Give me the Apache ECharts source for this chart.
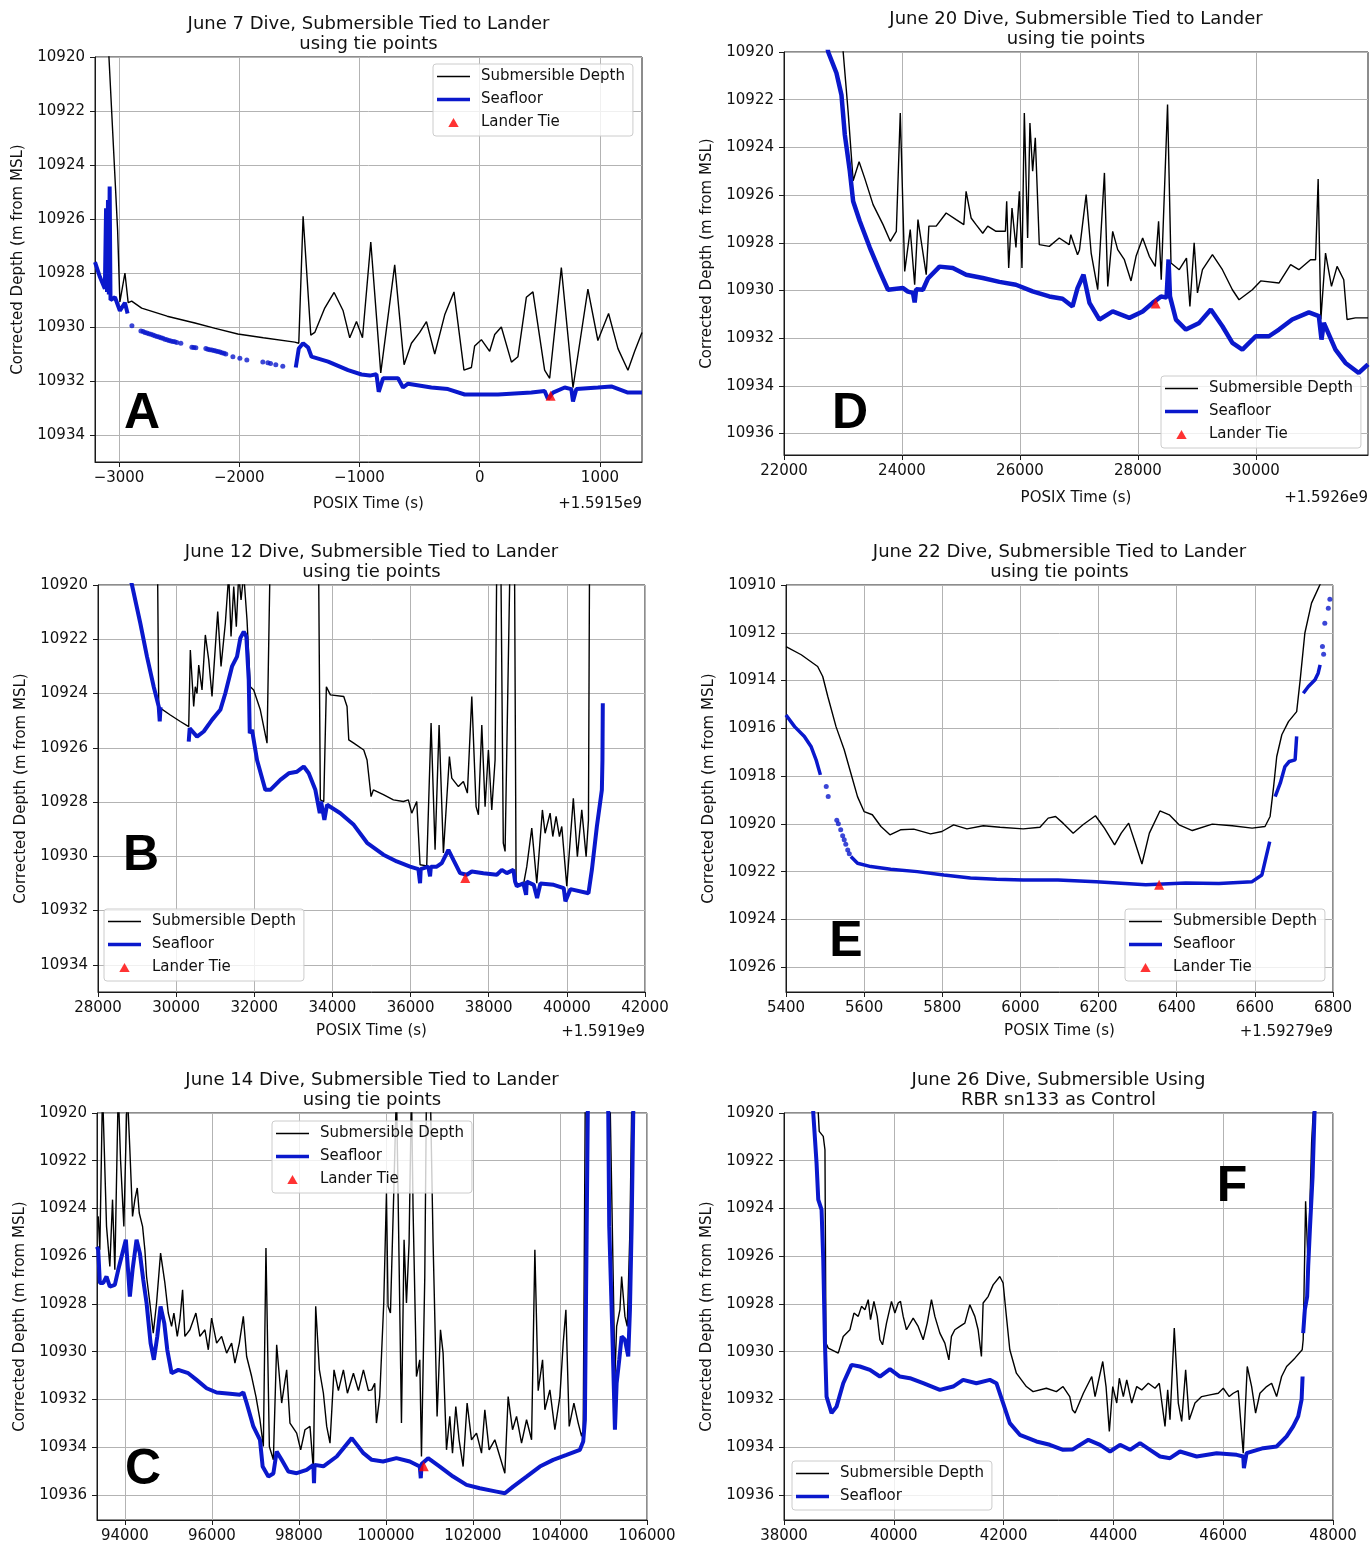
<!DOCTYPE html>
<html>
<head>
<meta charset="utf-8">
<script src="https://cdn.jsdelivr.net/npm/echarts@6/dist/echarts.min.js"></script>
<style>
  html, body { margin: 0; padding: 0; background: #ffffff; }
  #chart { width: 1372px; height: 1544px; }
</style>
</head>
<body>
<div id="chart"></div>
<script>
// ---------- June 7 dive (offset +1.5915e9 s) ----------
const subA = [[-3090,10910],[-3084,10920],[-3012,10926.4],[-2993,10929.07],[-2951,10928.0],[-2924,10929.1],[-2895,10929.04],[-2812,10929.3],[-2600,10929.6],[-2369,10929.85],[-2200,10930.05],[-2012,10930.26],[-1800,10930.4],[-1538,10930.56],[-1505,10930.6],[-1469,10925.9],[-1405,10930.3],[-1372,10930.2],[-1289,10929.3],[-1211,10928.72],[-1136,10929.4],[-1081,10930.4],[-1025,10929.8],[-975,10930.4],[-906,10926.85],[-823,10931.7],[-707,10927.7],[-629,10931.4],[-568,10930.6],[-499,10930.2],[-443,10929.8],[-374,10931.0],[-291,10929.55],[-214,10928.7],[-131,10931.6],[-69,10931.5],[-42,10930.7],[14,10930.47],[83,10930.9],[125,10930.28],[180,10930.0],[264,10931.3],[318,10931.1],[388,10928.9],[443,10928.7],[540,10931.6],[582,10931.9],[679,10927.8],[776,10932.25],[900,10928.6],[983,10930.5],[1072,10929.5],[1150,10930.8],[1233,10931.6],[1289,10930.9],[1350,10930.2]];
const floorA = [[-3200,10927.6],[-3159,10928.15],[-3118,10928.58],[-3108,10925.6],[-3100,10928.7],[-3092,10925.3],[-3085,10928.8],[-3078,10924.8],[-3071,10929.0],[-3034,10928.9],[-2993,10929.4],[-2951,10929.1],[-2929,10929.5],[-2910,null],[-1530,10931.5],[-1505,10930.8],[-1469,10930.6],[-1427,10930.76],[-1399,10931.1],[-1261,10931.28],[-1095,10931.6],[-983,10931.76],[-914,10931.8],[-859,10931.75],[-840,10932.4],[-804,10931.9],[-679,10931.9],[-638,10932.24],[-596,10932.1],[-402,10932.24],[-264,10932.3],[-125,10932.5],[152,10932.5],[430,10932.43],[540,10932.37],[568,10932.67],[609,10932.43],[707,10932.24],[762,10932.3],[776,10932.76],[804,10932.3],[983,10932.24],[1095,10932.2],[1233,10932.43],[1350,10932.43]];
const dotsA = [[-2893,10929.95],[-2818,10930.15],[-2800,10930.17],[-2785,10930.2],[-2768,10930.22],[-2752,10930.25],[-2735,10930.27],[-2718,10930.3],[-2702,10930.32],[-2685,10930.35],[-2668,10930.37],[-2652,10930.4],[-2636,10930.42],[-2619,10930.45],[-2602,10930.47],[-2585,10930.5],[-2569,10930.52],[-2552,10930.54],[-2536,10930.55],[-2519,10930.57],[-2486,10930.6],[-2394,10930.75],[-2378,10930.76],[-2361,10930.77],[-2278,10930.8],[-2262,10930.82],[-2245,10930.84],[-2228,10930.85],[-2211,10930.87],[-2195,10930.89],[-2178,10930.91],[-2161,10930.93],[-2145,10930.95],[-2128,10930.97],[-2112,10931.0],[-2053,10931.1],[-1995,10931.16],[-1937,10931.22],[-1804,10931.3],[-1762,10931.32],[-1740,10931.35],[-1696,10931.4],[-1638,10931.45]];
const tieA = [[590,10932.55]];
const xTicksA = [-3000,-2000,-1000,0,1000];
const yTicksA = [10920,10922,10924,10926,10928,10930,10932,10934];

// ---------- June 20 dive (offset +1.5926e9 s) ----------
const subD = [[22980,10915],[23003,10920],[23087,10922.5],[23172,10925.4],[23273,10924.6],[23369,10925.3],[23510,10926.4],[23679,10927.24],[23802,10927.94],[23904,10927.52],[23971,10922.56],[24046,10929.2],[24140,10927.45],[24215,10929.76],[24271,10927.03],[24411,10929.34],[24456,10927.3],[24580,10927.3],[24749,10926.75],[24918,10927.03],[25048,10927.24],[25087,10925.84],[25172,10926.96],[25256,10927.24],[25369,10927.6],[25454,10927.3],[25594,10927.52],[25753,10927.52],[25775,10926.26],[25809,10929.06],[25865,10926.54],[25932,10928.2],[25990,10925.84],[26034,10929.06],[26074,10922.56],[26130,10927.8],[26169,10922.98],[26215,10925.0],[26260,10923.6],[26328,10928.08],[26497,10928.15],[26666,10927.8],[26835,10928.08],[26862,10927.66],[26976,10928.5],[27009,10928.3],[27122,10925.98],[27207,10928.43],[27318,10929.97],[27432,10925.07],[27488,10929.83],[27572,10927.52],[27657,10928.29],[27770,10928.71],[27883,10929.6],[27968,10928.57],[28080,10927.8],[28193,10928.57],[28294,10928.99],[28350,10927.1],[28395,10929.55],[28502,10922.2],[28560,10928.85],[28700,10929.13],[28823,10928.64],[28881,10930.67],[28953,10928.0],[29009,10930.1],[29094,10929.13],[29263,10928.5],[29432,10929.13],[29601,10929.97],[29714,10930.39],[29939,10929.97],[30081,10929.6],[30390,10929.69],[30588,10928.92],[30728,10929.13],[30926,10928.71],[31011,10928.71],[31055,10925.33],[31101,10931.22],[31180,10928.43],[31281,10929.83],[31376,10928.99],[31489,10929.55],[31545,10931.22],[31687,10931.15],[31900,10931.15]];
const floorD = [[22650,10918.5],[22749,10920],[22889,10920.88],[22974,10921.8],[23031,10923.47],[23116,10925.0],[23172,10926.26],[23285,10927.1],[23454,10928.2],[23623,10929.2],[23763,10929.97],[24017,10929.9],[24100,10930.05],[24186,10930.1],[24215,10930.5],[24240,10929.95],[24355,10929.97],[24440,10929.5],[24637,10929.0],[24862,10929.06],[25087,10929.34],[25369,10929.48],[25652,10929.64],[25932,10929.76],[26215,10930.04],[26497,10930.25],[26722,10930.35],[26891,10930.67],[26976,10929.9],[27077,10929.34],[27178,10930.52],[27347,10931.22],[27572,10930.88],[27855,10931.15],[28080,10930.88],[28249,10930.52],[28391,10930.25],[28485,10930.3],[28519,10928.7],[28543,10930.25],[28644,10931.22],[28813,10931.64],[29038,10931.36],[29236,10930.8],[29432,10931.5],[29601,10932.2],[29770,10932.48],[29997,10931.92],[30221,10931.92],[30390,10931.64],[30615,10931.22],[30898,10930.92],[31067,10931.08],[31112,10932.06],[31151,10931.36],[31349,10932.48],[31518,10933.04],[31743,10933.46],[31900,10933.1]];
const tieD = [[28300,10930.55]];
const xTicksD = [22000,24000,26000,28000,30000];
const yTicksD = [10920,10922,10924,10926,10928,10930,10932,10934,10936];

// ---------- June 12 dive (offset +1.5919e9 s) ----------
const subB = [[29520,10910],[29528,10920],[29554,10924.42],[29595,10924.54],[29851,10924.79],[30107,10925.03],[30322,10925.22],[30363,10922.4],[30449,10924.48],[30490,10923.75],[30534,10924.0],[30578,10922.95],[30662,10923.87],[30747,10921.84],[30834,10922.76],[30918,10924.11],[31064,10920.98],[31149,10923.0],[31259,10921.41],[31346,10919.6],[31405,10921.9],[31474,10920.06],[31540,10921.54],[31602,10919.6],[31661,10920.55],[31730,10919.6],[31814,10921.29],[31898,10923.75],[31985,10923.87],[32154,10924.6],[32326,10925.83],[32395,10920],[32400,10910],[33645,10910],[33650,10920],[33691,10927.92],[33778,10927.98],[33845,10923.75],[33947,10924.05],[34290,10924.11],[34374,10924.48],[34418,10925.71],[34546,10925.83],[34802,10926.08],[34886,10926.45],[34989,10927.8],[35048,10927.55],[35304,10927.73],[35560,10927.92],[35816,10927.98],[35944,10927.92],[36030,10928.41],[36158,10927.98],[36243,10930.31],[36413,10930.35],[36525,10925.09],[36627,10929.76],[36730,10925.16],[36840,10929.88],[36994,10926.32],[37055,10927.12],[37224,10927.43],[37352,10927.24],[37454,10927.67],[37567,10924.11],[37677,10928.17],[37736,10928.47],[37823,10925.16],[37907,10928.17],[37992,10926.08],[38078,10928.29],[38163,10926.45],[38207,10919],[38310,10919],[38373,10929.51],[38419,10929.82],[38547,10919],[38660,10919],[38701,10930.99],[38888,10931.05],[38974,10930.38],[39102,10928.96],[39230,10930.99],[39374,10928.29],[39443,10929.15],[39571,10928.41],[39640,10929.27],[39725,10928.53],[39810,10929.27],[39870,10928.9],[39998,10931.1],[40166,10927.86],[40269,10930.01],[40382,10928.29],[40493,10930.01],[40553,10928.66],[40578,10920],[40585,10910]];
const floorB = [[28800,10919.6],[28870,10920],[29083,10921.41],[29254,10922.64],[29426,10923.75],[29554,10924.48],[29580,10925.03],[29600,10924.5],[29620,null],[30322,10925.77],[30347,10925.28],[30534,10925.59],[30706,10925.4],[30918,10924.97],[31131,10924.6],[31259,10923.99],[31430,10923.0],[31558,10922.64],[31643,10921.96],[31730,10921.72],[31797,10921.9],[31858,10923.5],[31884,10925.46],[31942,10925.34],[32070,10926.45],[32283,10927.55],[32411,10927.55],[32667,10927.18],[32882,10926.94],[33094,10926.88],[33266,10926.69],[33394,10926.94],[33563,10927.55],[33676,10928.41],[33709,10927.98],[33794,10928.66],[33862,10928.1],[34203,10928.41],[34546,10928.84],[34886,10929.5],[35304,10929.94],[35647,10930.19],[35987,10930.38],[36200,10930.47],[36243,10930.99],[36260,10930.47],[36455,10930.38],[36499,10930.74],[36520,10930.38],[36670,10930.38],[36798,10930.25],[36968,10929.76],[37096,10930.13],[37267,10930.62],[37439,10930.68],[37567,10930.56],[37864,10930.62],[38207,10930.68],[38335,10930.5],[38463,10930.62],[38632,10930.5],[38675,10930.93],[38719,10931.1],[38888,10931.0],[38957,10931.42],[38974,10930.93],[39152,10931.05],[39238,10931.54],[39323,10931.0],[39664,10931.05],[39920,10931.17],[39962,10931.66],[40090,10931.21],[40553,10931.36],[40640,10930.5],[40768,10928.9],[40896,10927.55],[40911,10926.45],[40920,10924.36]];
const tieB = [[37400,10930.8]];
const xTicksB = [28000,30000,32000,34000,36000,38000,40000,42000];
const yTicksB = [10920,10922,10924,10926,10928,10930,10932,10934];

// ---------- June 22 dive (offset +1.59279e9 s) ----------
const subE = [[5400,10912.58],[5439,10912.92],[5481,10913.41],[5494,10913.83],[5507,10914.67],[5528,10915.93],[5549,10916.9],[5566,10917.88],[5583,10918.86],[5600,10919.49],[5621,10919.62],[5643,10920.11],[5666,10920.46],[5693,10920.25],[5727,10920.22],[5770,10920.42],[5799,10920.32],[5829,10920.04],[5863,10920.21],[5905,10920.08],[5948,10920.14],[6007,10920.21],[6050,10920.14],[6071,10919.76],[6090,10919.69],[6109,10919.97],[6135,10920.39],[6160,10920.04],[6192,10919.66],[6215,10920.18],[6241,10920.88],[6258,10920.39],[6277,10919.97],[6294,10920.81],[6311,10921.68],[6330,10920.39],[6357,10919.46],[6381,10919.62],[6406,10920.04],[6440,10920.28],[6491,10920.01],[6542,10920.08],[6593,10920.18],[6626,10920.11],[6639,10919.69],[6648,10918.44],[6656,10917.18],[6669,10916.27],[6686,10915.72],[6707,10915.3],[6716,10913.97],[6728,10912.01],[6745,10910.76],[6769,10909.9],[6790,10909.3]];
const floorE = [[5400,10915.44],[5422,10915.93],[5447,10916.34],[5464,10916.76],[5477,10917.32],[5488,10917.95],[5495,null],[5566,10921.37],[5583,10921.65],[5617,10921.79],[5668,10921.9],[5736,10922.0],[5804,10922.14],[5872,10922.27],[5939,10922.32],[6007,10922.35],[6096,10922.35],[6194,10922.42],[6321,10922.55],[6423,10922.48],[6508,10922.5],[6593,10922.42],[6618,10922.14],[6627,10921.51],[6638,10920.74],[6645,null],[6652,10918.86],[6665,10918.3],[6677,10917.6],[6688,10917.39],[6703,10917.32],[6707,10916.34],[6715,null],[6724,10914.53],[6737,10914.25],[6754,10913.97],[6762,10913.69],[6767,10913.34]];
const dotsE = [[5503,10918.44],[5508,10918.86],[5530,10919.85],[5534,10920.0],[5540,10920.25],[5545,10920.5],[5549,10920.67],[5553,10920.85],[5558,10921.09],[5562,10921.25],[6773,10912.58],[6776,10912.9],[6779,10911.6],[6788,10910.97],[6792,10910.6]];
const tieE = [[6355,10922.55]];
const xTicksE = [5400,5600,5800,6000,6200,6400,6600,6800];
const yTicksE = [10910,10912,10914,10916,10918,10920,10922,10924,10926];

// ---------- June 14 dive ----------
const subC = [[93388,10924.33],[93425,10925.73],[93487,10919],[93530,10919],[93579,10924.75],[93655,10926.43],[93717,10923.63],[93770,10926.57],[93848,10919],[93901,10921.96],[93977,10924.75],[94055,10919],[94115,10921.54],[94177,10924.33],[94230,10923.63],[94285,10923.14],[94331,10924.19],[94407,10924.75],[94460,10925.73],[94499,10926.85],[94575,10927.96],[94653,10929.22],[94729,10927.96],[94821,10925.87],[94920,10927.12],[94998,10928.38],[95074,10928.94],[95127,10928.38],[95205,10929.36],[95265,10928.66],[95327,10927.41],[95380,10929.36],[95495,10929.08],[95633,10928.38],[95725,10929.36],[95840,10929.08],[95918,10929.92],[95994,10928.59],[96109,10929.64],[96224,10929.36],[96339,10930.06],[96454,10929.64],[96530,10930.48],[96631,10929.64],[96723,10928.52],[96799,10930.2],[96914,10931.04],[97013,10931.88],[97105,10932.85],[97183,10933.97],[97243,10925.66],[97321,10933.97],[97413,10934.53],[97489,10929.71],[97604,10932.15],[97719,10930.76],[97795,10932.99],[97949,10933.41],[98041,10934.11],[98140,10933.27],[98255,10933.13],[98333,10934.95],[98386,10928.1],[98471,10930.76],[98563,10931.74],[98639,10933.13],[98715,10933.83],[98807,10930.76],[98908,10931.63],[99023,10930.76],[99115,10931.74],[99253,10930.9],[99368,10931.63],[99483,10930.76],[99598,10931.63],[99674,10931.6],[99743,10931.32],[99782,10932.99],[99858,10931.88],[99950,10927.96],[100012,10923.35],[100049,10928.1],[100104,10928.38],[100180,10923.35],[100242,10919],[100279,10923.35],[100357,10932.99],[100417,10925.31],[100472,10927.96],[100532,10925.45],[100587,10919],[100624,10924.05],[100702,10931.04],[100778,10930.34],[100817,10934.39],[100893,10926.85],[100932,10919],[101020,10919],[101084,10925.45],[101176,10932.71],[101254,10929.08],[101314,10930.06],[101392,10934.11],[101468,10932.71],[101530,10934.25],[101606,10932.3],[101682,10933.69],[101774,10934.81],[101866,10932.15],[101967,10933.69],[102082,10933.41],[102197,10934.25],[102273,10932.43],[102372,10934.11],[102503,10933.69],[102618,10934.39],[102733,10935.09],[102809,10931.88],[102910,10933.27],[103002,10932.71],[103117,10933.83],[103232,10932.85],[103347,10933.69],[103423,10925.73],[103499,10931.63],[103600,10930.34],[103653,10932.43],[103768,10931.6],[103883,10933.27],[103998,10931.88],[104074,10929.64],[104136,10928.24],[104212,10933.13],[104320,10932.15],[104419,10932.99],[104497,10933.55],[104534,10933.27],[104596,10915],[105109,10915],[105263,10931.04],[105302,10928.94],[105378,10928.24],[105417,10926.85],[105493,10928.52],[105546,10928.94],[105608,10924.89],[105684,10915]];
const floorC = [[93360,10925.6],[93388,10925.73],[93425,10927.12],[93503,10927.12],[93579,10926.85],[93655,10927.27],[93770,10927.2],[93848,10926.57],[94023,10925.31],[94070,10926.5],[94115,10927.69],[94177,10926.57],[94269,10925.31],[94345,10925.87],[94423,10926.99],[94499,10927.96],[94591,10929.64],[94667,10930.34],[94745,10929.36],[94821,10928.1],[94906,10928.8],[94975,10929.92],[95074,10930.9],[95228,10930.76],[95458,10930.9],[95649,10931.18],[95879,10931.53],[96109,10931.71],[96415,10931.76],[96645,10931.8],[96723,10931.7],[96799,10932.15],[96953,10933.13],[97105,10933.69],[97167,10934.81],[97298,10935.23],[97413,10935.1],[97489,10934.18],[97604,10934.53],[97758,10935.02],[97949,10935.09],[98179,10934.95],[98333,10934.74],[98347,10935.51],[98360,10934.74],[98563,10934.8],[98869,10934.39],[99214,10933.62],[99483,10934.25],[99674,10934.53],[99934,10934.6],[100242,10934.46],[100548,10934.6],[100778,10934.81],[100801,10935.3],[100820,10934.7],[100969,10934.46],[101238,10934.81],[101544,10935.23],[101852,10935.58],[102158,10935.72],[102542,10935.86],[102733,10935.93],[102924,10935.65],[103232,10935.23],[103538,10934.81],[103844,10934.53],[104152,10934.32],[104458,10934.11],[104534,10933.76],[104573,10932.85],[104612,10925.17],[104665,10915],[105086,10915],[105132,10924.75],[105210,10929.64],[105247,10932.15],[105263,10933.27],[105302,10931.32],[105362,10930.34],[105417,10929.36],[105493,10929.5],[105569,10930.2],[105608,10928.24],[105647,10924.75],[105723,10915]];
const tieC = [[100870,10934.8]];
const xTicksC = [94000,96000,98000,100000,102000,104000,106000];
const yTicksC = [10920,10922,10924,10926,10928,10930,10932,10934,10936];

// ---------- June 26 dive ----------
const subF = [[38600,10915],[38624,10920],[38642,10920.77],[38715,10920.98],[38746,10921.54],[38764,10929.64],[38806,10929.85],[38988,10930.06],[39079,10929.36],[39201,10929.08],[39274,10928.38],[39352,10928.52],[39412,10928.1],[39474,10928.24],[39534,10927.82],[39576,10928.66],[39638,10927.89],[39698,10928.52],[39747,10929.5],[39795,10929.71],[39867,10928.8],[39958,10927.89],[40020,10928.38],[40080,10927.96],[40122,10927.89],[40171,10928.52],[40231,10929.08],[40353,10928.59],[40444,10928.94],[40535,10929.5],[40608,10928.8],[40686,10927.82],[40748,10928.52],[40839,10929.22],[40930,10929.64],[41003,10930.34],[41050,10929.36],[41112,10929.08],[41203,10928.94],[41294,10928.8],[41385,10928.03],[41476,10928.52],[41536,10929.08],[41596,10930.2],[41627,10927.96],[41718,10927.69],[41809,10927.2],[41931,10926.85],[41991,10927.12],[42051,10928.52],[42113,10929.92],[42233,10930.9],[42415,10931.46],[42537,10931.67],[42779,10931.53],[42961,10931.67],[43083,10931.46],[43205,10931.88],[43253,10932.43],[43302,10932.57],[43453,10931.74],[43606,10931.04],[43666,10931.88],[43806,10930.41],[43866,10931.46],[43926,10933.34],[43988,10931.46],[44061,10932.15],[44108,10931.11],[44181,10931.88],[44243,10931.18],[44334,10932.15],[44425,10931.46],[44516,10931.6],[44636,10931.32],[44758,10931.53],[44836,10931.32],[44940,10933.13],[44989,10931.6],[45031,10932.85],[45109,10929.01],[45182,10932.15],[45244,10932.92],[45316,10930.76],[45382,10932.85],[45486,10932.15],[45608,10931.88],[45759,10931.81],[45910,10931.74],[46001,10931.53],[46110,10931.88],[46183,10931.74],[46274,10931.63],[46365,10934.25],[46438,10930.62],[46518,10931.46],[46590,10932.57],[46669,10931.74],[46791,10931.46],[46882,10931.32],[46973,10931.88],[47064,10931.04],[47155,10930.62],[47306,10930.27],[47439,10929.92],[47457,10929.5],[47501,10923.7],[47548,10926.43],[47610,10921.26],[47651,10919.5],[47680,10915]];
const floorF = [[38500,10915],[38533,10920],[38593,10922.1],[38624,10923.63],[38684,10924.05],[38715,10926.15],[38746,10929.64],[38775,10931.88],[38866,10932.57],[38957,10932.3],[39079,10931.32],[39230,10930.55],[39383,10930.62],[39565,10930.76],[39747,10931.04],[39929,10930.73],[40111,10931.04],[40293,10931.11],[40535,10931.32],[40839,10931.6],[41081,10931.46],[41263,10931.18],[41505,10931.32],[41749,10931.18],[41869,10931.32],[41991,10932.15],[42113,10932.99],[42295,10933.48],[42597,10933.76],[42841,10933.9],[43083,10934.11],[43253,10934.1],[43544,10933.69],[43757,10933.9],[43939,10934.18],[44121,10933.9],[44303,10934.11],[44485,10933.83],[44667,10934.11],[44849,10934.39],[45031,10934.46],[45213,10934.18],[45517,10934.39],[45881,10934.25],[46245,10934.32],[46365,10934.39],[46377,10934.88],[46426,10934.25],[46729,10934.04],[46973,10933.97],[47155,10933.55],[47275,10933.13],[47366,10932.71],[47428,10932.01],[47446,10931.04],[47452,null],[47457,10929.22],[47487,10928.24],[47529,10927.69],[47548,10926.43],[47579,10924.89],[47628,10922.66],[47670,10919.5],[47700,10915]];
const xTicksF = [38000,40000,42000,44000,46000,48000];
const yTicksF = [10920,10922,10924,10926,10928,10930,10932,10934,10936];

const FONT = '"DejaVu Sans", Verdana, sans-serif';
const BLUE = '#0a18cc';
const INK = '#111111';
const GRID_LINE = '#b3b3b3';

// legend keys: short line swatches and a small triangle
const LEGEND_SUB = { name: 'Submersible Depth', icon: 'path://M0,0H33V1.4H0Z' };
const LEGEND_FLOOR = { name: 'Seafloor', icon: 'path://M0,0H33V3.4H0Z' };
const LEGEND_TIE = { name: 'Lander Tie', icon: 'path://M5,0L10,8.7L0,8.7Z' };
const ALL_NAMES = [LEGEND_SUB, LEGEND_FLOOR, LEGEND_TIE];

const panels = [
  { grid: {left: 95, top: 57, width: 547, height: 405}, xRange: [-3200, 1350], yRange: [10920, 10935],
    xTicks: xTicksA, yTicks: yTicksA, sub: subA, floor: floorA, dots: dotsA, tie: tieA, floorWidth: 4,
    title: 'June 7 Dive, Submersible Tied to Lander\nusing tie points', titleY: 34,
    tag: 'A', tagPos: [142, 414], offset: '+1.5915e9', offsetY: 504, xNameGap: 35,
    legendPos: {left: 433, top: 64}, legendNames: ALL_NAMES },
  { grid: {left: 784, top: 52, width: 584, height: 403}, xRange: [22000, 31900], yRange: [10920, 10936.9],
    xTicks: xTicksD, yTicks: yTicksD, sub: subD, floor: floorD, dots: null, tie: tieD, floorWidth: 4.5,
    title: 'June 20 Dive, Submersible Tied to Lander\nusing tie points', titleY: 29,
    tag: 'D', tagPos: [850, 414], offset: '+1.5926e9', offsetY: 498, xNameGap: 36,
    legendPos: {left: 1161, top: 376}, legendNames: ALL_NAMES },
  { grid: {left: 98, top: 585, width: 547, height: 407}, xRange: [28000, 42000], yRange: [10920, 10935],
    xTicks: xTicksB, yTicks: yTicksB, sub: subB, floor: floorB, dots: null, tie: tieB, floorWidth: 4,
    title: 'June 12 Dive, Submersible Tied to Lander\nusing tie points', titleY: 562,
    tag: 'B', tagPos: [141, 856], offset: '+1.5919e9', offsetY: 1032, xNameGap: 32,
    legendPos: {left: 104, top: 909}, legendNames: ALL_NAMES },
  { grid: {left: 786, top: 585, width: 547, height: 407}, xRange: [5400, 6800], yRange: [10910, 10927.04],
    xTicks: xTicksE, yTicks: yTicksE, sub: subE, floor: floorE, dots: dotsE, tie: tieE, floorWidth: 3.5,
    title: 'June 22 Dive, Submersible Tied to Lander\nusing tie points', titleY: 562,
    tag: 'E', tagPos: [846, 942], offset: '+1.59279e9', offsetY: 1032, xNameGap: 32,
    legendPos: {left: 1125, top: 909}, legendNames: ALL_NAMES },
  { grid: {left: 97, top: 1113, width: 550, height: 407}, xRange: [93360, 106000], yRange: [10920, 10937.05],
    xTicks: xTicksC, yTicks: yTicksC, sub: subC, floor: floorC, dots: null, tie: tieC, floorWidth: 4,
    title: 'June 14 Dive, Submersible Tied to Lander\nusing tie points', titleY: 1090,
    tag: 'C', tagPos: [143, 1470], offset: null, xNameGap: null,
    legendPos: {left: 272, top: 1121}, legendNames: ALL_NAMES },
  { grid: {left: 784, top: 1113, width: 549, height: 407}, xRange: [38000, 48000], yRange: [10920, 10937.05],
    xTicks: xTicksF, yTicks: yTicksF, sub: subF, floor: floorF, dots: null, tie: null, floorWidth: 4,
    title: 'June 26 Dive, Submersible Using\nRBR sn133 as Control', titleY: 1090,
    tag: 'F', tagPos: [1232, 1187], offset: null, xNameGap: null,
    legendPos: {left: 792, top: 1461}, legendNames: [LEGEND_SUB, LEGEND_FLOOR] }
];

function tickText(v) {
  return String(v).replace('-', '\u2212');
}

const axisText = { fontFamily: FONT, fontSize: 15, color: INK };

const option = {
  animation: false,
  backgroundColor: '#ffffff',
  grid: [], xAxis: [], yAxis: [], series: [], legend: [], graphic: []
};

panels.forEach((p, i) => {
  option.grid.push(Object.assign({ show: true, borderColor: '#1a1a1a', borderWidth: 1, backgroundColor: 'transparent' }, p.grid));

  option.xAxis.push({
    type: 'value', gridIndex: i, min: p.xRange[0], max: p.xRange[1],
    name: p.xNameGap != null ? 'POSIX Time (s)' : '',
    nameLocation: 'middle', nameGap: p.xNameGap || 30, nameTextStyle: axisText,
    axisLine: { show: true, onZero: false, lineStyle: { color: '#1a1a1a', width: 1 } },
    axisTick: { show: true, length: 5, customValues: p.xTicks, lineStyle: { color: '#1a1a1a', width: 1 } },
    axisLabel: Object.assign({ customValues: p.xTicks, margin: 9, formatter: tickText }, axisText),
    splitLine: { show: true, lineStyle: { color: GRID_LINE, width: 1 } }
  });

  option.yAxis.push({
    type: 'value', gridIndex: i, inverse: true, min: p.yRange[0], max: p.yRange[1],
    name: 'Corrected Depth (m from MSL)', nameLocation: 'middle', nameGap: 69, nameTextStyle: axisText,
    axisLine: { show: true, onZero: false, lineStyle: { color: '#1a1a1a', width: 1 } },
    axisTick: { show: true, length: 5, customValues: p.yTicks, lineStyle: { color: '#1a1a1a', width: 1 } },
    axisLabel: Object.assign({ customValues: p.yTicks, margin: 10, formatter: tickText }, axisText),
    splitLine: { show: true, lineStyle: { color: GRID_LINE, width: 1 } }
  });

  option.series.push({
    type: 'line', name: 'Submersible Depth', xAxisIndex: i, yAxisIndex: i,
    data: p.sub, symbol: 'none', color: '#000000', clip: true,
    lineStyle: { color: '#000000', width: 1.4 }, z: 2
  });
  option.series.push({
    type: 'line', name: 'Seafloor', xAxisIndex: i, yAxisIndex: i,
    data: p.floor, symbol: 'none', color: BLUE, connectNulls: false, clip: true,
    lineStyle: { color: BLUE, width: p.floorWidth }, z: 3
  });
  if (p.dots) {
    option.series.push({
      type: 'scatter', name: 'Seafloor', xAxisIndex: i, yAxisIndex: i,
      data: p.dots, symbol: 'circle', symbolSize: 5, itemStyle: { color: BLUE }, clip: true, z: 3
    });
  }
  if (p.tie) {
    option.series.push({
      type: 'scatter', name: 'Lander Tie', xAxisIndex: i, yAxisIndex: i,
      data: p.tie, symbol: 'triangle', symbolSize: 10, itemStyle: { color: '#ff0000' }, clip: true, z: 4
    });
  }

  option.legend.push({
    left: p.legendPos.left, top: p.legendPos.top, orient: 'vertical',
    data: p.legendNames, selectedMode: false,
    itemWidth: 33, itemHeight: 9, itemGap: 8,
    padding: [5, 8, 6, 4],
    itemStyle: { borderWidth: 0 },
    backgroundColor: 'rgba(255,255,255,0.8)', borderColor: '#cccccc', borderWidth: 1, borderRadius: 3,
    textStyle: { fontFamily: FONT, fontSize: 15, color: INK, padding: [0, 0, 0, 6] },
    z: 10
  });

  const cx = p.grid.left + p.grid.width / 2;
  option.graphic.push({
    type: 'text', x: cx, y: p.titleY, z: 20,
    style: { text: p.title, fontFamily: FONT, fontSize: 18, lineHeight: 20, fill: INK,
             align: 'center', verticalAlign: 'middle', textAlign: 'center', textVerticalAlign: 'middle' }
  });
  option.graphic.push({
    type: 'text', x: p.tagPos[0], y: p.tagPos[1], z: 20,
    style: { text: p.tag, fontFamily: '"Liberation Sans", Arial, sans-serif', fontWeight: 'bold', fontSize: 50, fill: '#000000',
             align: 'center', verticalAlign: 'middle', textAlign: 'center', textVerticalAlign: 'middle' }
  });
  if (p.offset) {
    option.graphic.push({
      type: 'text', x: p.grid.left + p.grid.width, y: p.offsetY, z: 20,
      style: { text: p.offset, fontFamily: FONT, fontSize: 15, fill: INK,
               align: 'right', verticalAlign: 'middle', textAlign: 'right', textVerticalAlign: 'middle' }
    });
  }
});

const chart = echarts.init(document.getElementById('chart'), null, { renderer: 'canvas' });
chart.setOption(option);
</script>
</body>
</html>
